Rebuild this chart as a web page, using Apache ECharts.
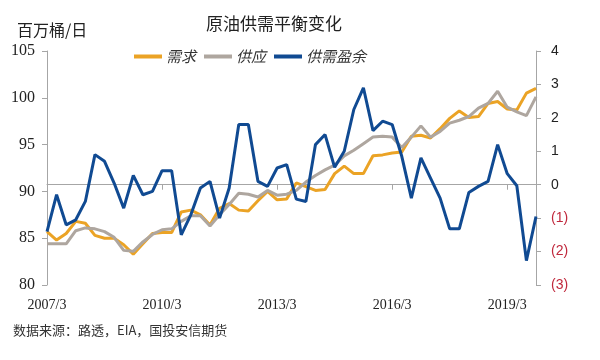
<!DOCTYPE html>
<html>
<head>
<meta charset="utf-8">
<script src="https://cdn.jsdelivr.net/npm/echarts@6/dist/echarts.min.js"></script>
<style>html,body{margin:0;padding:0;background:#fff}#c{width:600px;height:360px}</style>
</head>
<body>
<div id="c"></div>
<script>
// quarterly categories 2007/3 .. 2019/12
const categories = [];
for (let y = 2007; y <= 2019; y++) { for (const m of [3, 6, 9, 12]) categories.push(y + '/' + m); }

const demand = [85.7,84.8,85.5,86.8,86.6,85.3,85.0,85.0,84.3,83.3,84.4,85.5,85.6,85.6,87.8,88.0,
  87.5,86.4,88.2,88.7,88.0,87.9,89.0,90.0,89.1,89.2,90.9,90.5,90.1,90.2,91.9,92.7,
  91.9,91.9,93.8,93.9,94.1,94.2,95.9,96.0,95.7,96.7,97.8,98.6,97.9,98.0,99.4,99.6,
  98.8,98.7,100.5,101.0];
const supply = [84.4,84.4,84.4,85.8,86.1,86.0,85.7,85.1,83.7,83.6,84.6,85.4,85.9,86.0,86.8,87.4,
  87.4,86.3,87.5,88.6,89.8,89.7,89.4,90.1,89.6,89.7,90.1,91.0,91.7,92.3,92.8,93.8,
  94.4,95.1,95.8,95.9,95.8,94.7,95.8,97.0,95.8,96.4,97.3,97.6,98.0,98.9,99.4,100.7,
  99.0,98.5,98.1,100.1];
const surplus = [-1.40,-0.30,-1.20,-1.05,-0.50,0.90,0.70,0.05,-0.70,0.28,-0.30,-0.20,0.42,0.42,-1.50,-0.90,
  -0.10,0.10,-1.00,-0.10,1.80,1.80,0.10,-0.05,0.50,0.60,-0.43,-0.50,1.20,1.50,0.52,1.00,
  2.25,2.90,1.62,1.90,1.80,0.85,-0.40,0.80,0.20,-0.40,-1.32,-1.32,-0.23,-0.05,0.10,1.20,
  0.33,-0.03,-2.27,-0.95];

const leftTicks = {min: 80, max: 105, interval: 5};
const rightTicks = {min: -3, max: 4, interval: 1};

const chart = echarts.init(document.getElementById('c'));
const axisLine = {show: true, lineStyle: {color: '#A6A6A6', width: 1}};
chart.setOption({
  animation: false,
  title: {
    text: '原油供需平衡变化', left: 269, textAlign: 'center', top: 10,
    textStyle: {fontFamily: 'Noto Sans CJK SC', fontSize: 17, fontWeight: 'normal', color: '#222'}
  },
  graphic: [
    {type: 'text', left: 17, top: 22, style: {text: '百万桶/日', fontFamily: 'Noto Sans CJK SC', fontSize: 16, fill: '#222'}},
    {type: 'text', left: 13, top: 324, style: {text: '数据来源：路透，EIA，国投安信期货', fontFamily: 'Noto Sans CJK SC', fontSize: 13, fill: '#333'}}
  ],
  legend: {
    left: 129, top: 44, itemWidth: 28, itemHeight: 4, itemGap: 8, icon: 'rect',
    textStyle: {fontFamily: 'Noto Sans CJK SC', fontSize: 15, fontStyle: 'italic', color: '#333', padding: [0, 0, 0, -1]},
    data: ['需求', '供应', '供需盈余']
  },
  grid: {left: 47, right: 64, top: 51, bottom: 75, containLabel: false},
  xAxis: {
    type: 'category', data: categories, boundaryGap: false,
    axisLine: axisLine,
    axisTick: {show: true, interval: 11, length: 5, lineStyle: {color: '#A6A6A6'}},
    axisLabel: {interval: 11, margin: 13, fontFamily: 'Liberation Serif', fontSize: 14, color: '#222'},
    splitLine: {show: false}
  },
  yAxis: [
    {
      type: 'value', position: 'left', min: leftTicks.min, max: leftTicks.max, interval: leftTicks.interval,
      axisLine: axisLine, axisTick: {show: true, length: 5, lineStyle: {color: '#A6A6A6'}},
      axisLabel: {margin: 12, fontFamily: 'Liberation Serif', fontSize: 16, color: '#222'},
      splitLine: {show: false}
    },
    {
      type: 'value', position: 'right', min: rightTicks.min, max: rightTicks.max, interval: rightTicks.interval,
      axisLine: axisLine, axisTick: {show: true, length: 5, lineStyle: {color: '#A6A6A6'}},
      axisLabel: {
        margin: 15, fontFamily: 'Liberation Sans', fontSize: 14,
        formatter: v => v < 0 ? '(' + Math.abs(v) + ')' : String(v),
        color: v => Number(v) < 0 ? '#C0283C' : '#222'
      },
      splitLine: {show: false}
    }
  ],
  series: [
    {name: '需求', type: 'line', data: demand, yAxisIndex: 0, showSymbol: false, symbol: 'none',
      lineStyle: {color: '#EBA325', width: 3}, itemStyle: {color: '#EBA325'}, z: 2},
    {name: '供应', type: 'line', data: supply, yAxisIndex: 0, showSymbol: false, symbol: 'none',
      lineStyle: {color: '#AEA69F', width: 3}, itemStyle: {color: '#AEA69F'}, z: 3},
    {name: '供需盈余', type: 'line', data: surplus, yAxisIndex: 1, showSymbol: false, symbol: 'none',
      lineStyle: {color: '#104A92', width: 3}, itemStyle: {color: '#104A92'}, z: 4}
  ]
});
</script>
</body>
</html>
